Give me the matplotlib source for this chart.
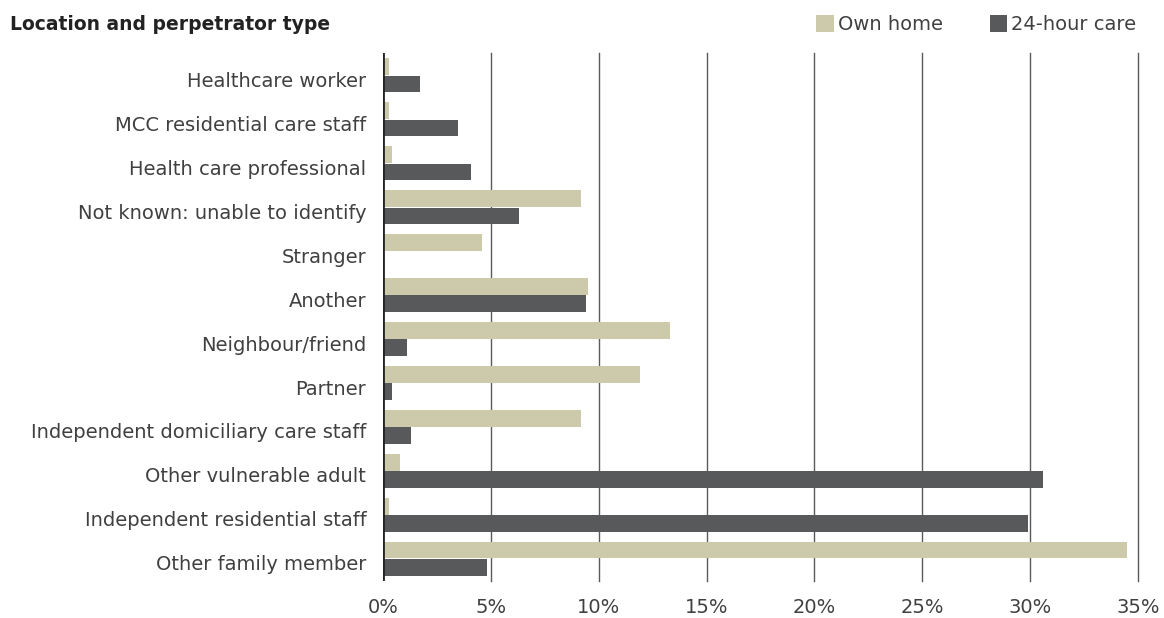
import numpy as np
import matplotlib.pyplot as plt
from matplotlib.transforms import ScaledTranslation

categories = [
    "Healthcare worker",
    "MCC residential care staff",
    "Health care professional",
    "Not known: unable to identify",
    "Stranger",
    "Another",
    "Neighbour/friend",
    "Partner",
    "Independent domiciliary care staff",
    "Other vulnerable adult",
    "Independent residential staff",
    "Other family member",
]
own_home = [0.3, 0.3, 0.4, 9.2, 4.6, 9.5, 13.3, 11.9, 9.2, 0.8, 0.3, 34.5]
care_24h = [1.7, 3.5, 4.1, 6.3, 0.0, 9.4, 1.1, 0.4, 1.3, 30.6, 29.9, 4.8]
xticks = [0, 5, 10, 15, 20, 25, 30, 35]

own_col = "#cdc9ab"
care_col = "#58595b"
text_col = "#404040"

plt.rcParams['font.family'] = ['DejaVu Sans']

fig = plt.figure(figsize=(11.64, 6.18), dpi=100)
ax = fig.add_axes([0.329, 0.06, 0.6487, 0.854])

y = np.arange(len(categories))
h = 0.37
ax.barh(y - h / 2 - 0.01, own_home, height=h, color=own_col, label="Own home", zorder=3)
ax.barh(y + h / 2 + 0.01, care_24h, height=h, color=care_col, label="24-hour care", zorder=3)

ax.set_ylim(len(categories) - 0.5, -0.5)
ax.set_xlim(0, 35)
ax.set_yticks(y)
ax.set_yticklabels(categories, fontsize=14, color=text_col)
ax.set_xticks(xticks)
ax.set_xticklabels([f"{t}%" for t in xticks], fontsize=14, color=text_col)
ax.tick_params(axis='both', length=0)
ax.tick_params(axis='y', pad=12)
ax.tick_params(axis='x', pad=12)

# nudge category labels slightly down
shift = ScaledTranslation(0, -4 / 100, fig.dpi_scale_trans)
for lbl in ax.get_yticklabels():
    lbl.set_transform(lbl.get_transform() + shift)

for s in ax.spines.values():
    s.set_visible(False)
for t in xticks[1:]:
    ax.axvline(t, color="#5a5a5a", lw=1, zorder=1, clip_on=False)
ax.axvline(0, color="#222222", lw=2, zorder=4)

fig.text(0.009, 0.96, "Location and perpetrator type", fontsize=13.5,
         fontweight='bold', color="#222222", va='center')

fig.legend(loc='center right', bbox_to_anchor=(0.991, 0.96), ncol=2, frameon=False,
           handlelength=0.9, handleheight=0.9, handletextpad=0.2,
           columnspacing=2.4, labelcolor=text_col, prop={'size': 14})

fig.savefig("out.png", dpi=100)
